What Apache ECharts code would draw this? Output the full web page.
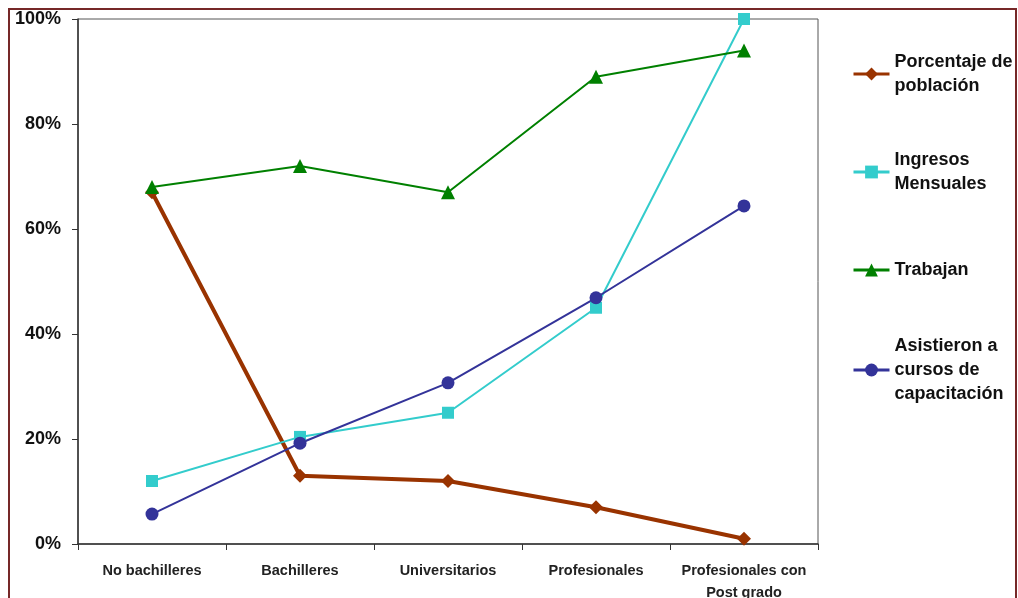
<!DOCTYPE html>
<html>
<head>
<meta charset="utf-8">
<script src="https://cdn.jsdelivr.net/npm/echarts@6/dist/echarts.min.js"></script>
<style>
  html, body { margin: 0; padding: 0; background: #fff; }
  #chart { width: 1018px; height: 598px; }
</style>
</head>
<body>
<div id="chart"></div>
<script>
// Education levels on the category axis
const categories = ['No bachilleres', 'Bachilleres', 'Universitarios', 'Profesionales', 'Profesionales con\nPost grado'];

// Series values (percent)
const porcentajePoblacion = [67, 13, 12, 7, 1];
const ingresosMensuales = [12, 20.4, 25, 45, 100];
const trabajan = [68, 72, 67, 89, 94];
const asistieronCursos = [5.7, 19.2, 30.7, 46.9, 64.4];

// Y axis ticks
const yTicks = { min: 0, max: 100, interval: 20 };

const names = ['Porcentaje de\npoblación', 'Ingresos\nMensuales', 'Trabajan', 'Asistieron a\ncursos de\ncapacitación'];

const font = 'Liberation Sans, Arial, sans-serif';

// One legend per series so each entry sits at its own height,
// with the marker lined up against the first text line
function legendFor(name, top, lines) {
  return {
    data: [name],
    left: 852,
    top: top,
    padding: 0,
    itemWidth: 36,
    itemHeight: 16,
    itemGap: 0,
    selectedMode: false,
    lineStyle: { width: 3 },
    textStyle: {
      fontFamily: font,
      fontWeight: 'bold',
      fontSize: 18,
      color: '#111',
      lineHeight: 24,
      padding: [24 * (lines - 1), 0, 0, 0]
    }
  };
}

const chart = echarts.init(document.getElementById('chart'), null, { renderer: 'canvas' });
chart.setOption({
  animation: false,
  backgroundColor: '#ffffff',
  graphic: [{
    type: 'rect',
    shape: { x: 9, y: 9, width: 1007, height: 600 },
    style: { fill: 'none', stroke: '#762828', lineWidth: 2 },
    silent: true
  }],
  grid: {
    left: 78, right: 200, top: 19, bottom: 54,
    outerBoundsMode: 'none',
    containLabel: false,
    show: true, borderColor: '#555', borderWidth: 1, backgroundColor: 'transparent'
  },
  legend: [
    legendFor(names[0], 74 - 36, 2),
    legendFor(names[1], 172 - 36, 2),
    legendFor(names[2], 270 - 12, 1),
    legendFor(names[3], 370 - 60, 3)
  ],
  xAxis: {
    type: 'category',
    data: categories,
    boundaryGap: true,
    axisLine: { lineStyle: { color: '#333', width: 1.5 } },
    axisTick: { show: true, length: 6, inside: false, lineStyle: { color: '#333' } },
    axisLabel: {
      interval: 0,
      margin: 16,
      fontFamily: font,
      fontWeight: 'bold',
      fontSize: 14.5,
      color: '#222',
      lineHeight: 22
    }
  },
  yAxis: {
    type: 'value',
    min: yTicks.min,
    max: yTicks.max,
    interval: yTicks.interval,
    axisLine: { show: true, lineStyle: { color: '#333', width: 1.5 } },
    axisTick: { show: true, length: 6, lineStyle: { color: '#333' } },
    splitLine: { show: false },
    axisLabel: {
      formatter: '{value}%',
      margin: 17,
      fontFamily: font,
      fontWeight: 'bold',
      fontSize: 18,
      color: '#111'
    }
  },
  series: [
    {
      name: names[0], type: 'line', data: porcentajePoblacion,
      symbol: 'diamond', symbolSize: 14,
      lineStyle: { color: '#993300', width: 4 },
      itemStyle: { color: '#993300' }
    },
    {
      name: names[1], type: 'line', data: ingresosMensuales,
      symbol: 'rect', symbolSize: 12,
      lineStyle: { color: '#33CCCC', width: 2 },
      itemStyle: { color: '#33CCCC' }
    },
    {
      name: names[2], type: 'line', data: trabajan,
      symbol: 'triangle', symbolSize: 14,
      lineStyle: { color: '#008000', width: 2 },
      itemStyle: { color: '#008000' }
    },
    {
      name: names[3], type: 'line', data: asistieronCursos,
      symbol: 'circle', symbolSize: 13,
      lineStyle: { color: '#333399', width: 2 },
      itemStyle: { color: '#333399' }
    }
  ]
});
</script>
</body>
</html>
